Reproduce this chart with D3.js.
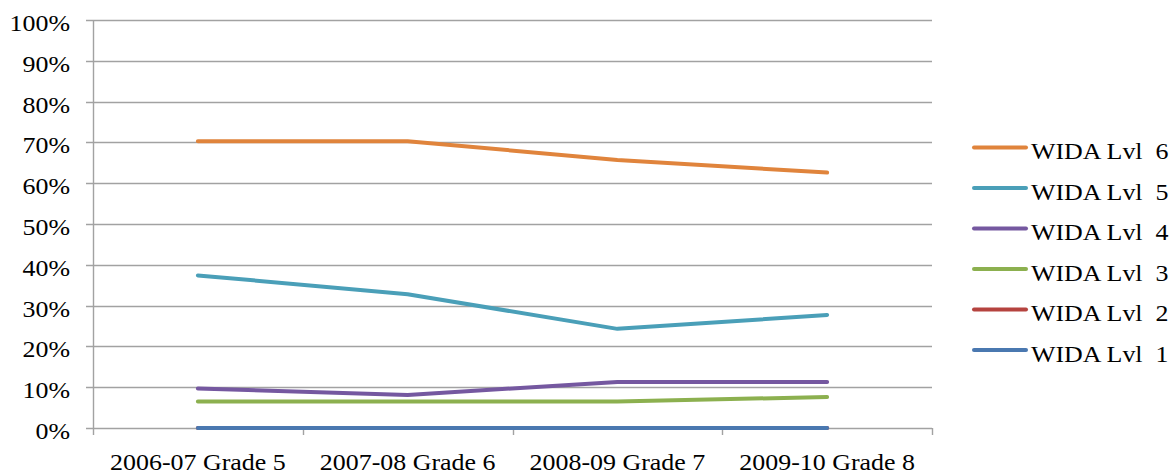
<!DOCTYPE html>
<html>
<head>
<meta charset="utf-8">
<script src="https://cdn.jsdelivr.net/npm/d3@7"></script>
<style>
  body { margin: 0; background: #fff; }
  text { font-family: "Liberation Serif", "Times New Roman", serif; fill: #000; }
</style>
</head>
<body>
<div id="chart"></div>
<script>
// Data
var categories = ["2006-07 Grade 5", "2007-08 Grade 6", "2008-09 Grade 7", "2009-10 Grade 8"];
var seriesNames = ["WIDA Lvl  6", "WIDA Lvl  5", "WIDA Lvl  4", "WIDA Lvl  3", "WIDA Lvl  2", "WIDA Lvl  1"];
var lvl6 = [0.703, 0.703, 0.657, 0.626];
var lvl5 = [0.374, 0.328, 0.243, 0.277];
var lvl4 = [0.097, 0.081, 0.113, 0.113];
var lvl3 = [0.065, 0.065, 0.065, 0.076];
var lvl2 = [0, 0, 0, 0];
var lvl1 = [0, 0, 0, 0];
var yTicks = [0, 0.1, 0.2, 0.3, 0.4, 0.5, 0.6, 0.7, 0.8, 0.9, 1.0];

var colors = ["#E0843C", "#4A9FB8", "#7558A0", "#8CB04F", "#B5433F", "#4A78B0"];
var allSeries = [lvl6, lvl5, lvl4, lvl3, lvl2, lvl1];

// SVG area
var svgWidth = 1175;
var svgHeight = 474;
var plot = { left: 93, right: 932, top: 20, bottom: 428 };
var stretch = 1.08; // the source text is a bit wide

var svg = d3.select("#chart")
    .append("svg")
    .attr("width", svgWidth)
    .attr("height", svgHeight);

// Scales
var xBand = d3.scaleBand()
    .domain(categories)
    .range([plot.left, plot.right])
    .padding(0);

var yScale = d3.scaleLinear()
    .domain([0, 1])
    .range([plot.bottom, plot.top]);

var gridColor = "#a2a2a2";

// Gridlines + y tick labels
var yAxis = svg.append("g");
yAxis.selectAll(".grid")
    .data(yTicks)
    .enter()
    .append("line")
    .attr("x1", plot.left - 7)
    .attr("x2", plot.right)
    .attr("y1", d => Math.round(yScale(d)) + 0.5)
    .attr("y2", d => Math.round(yScale(d)) + 0.5)
    .attr("stroke", gridColor)
    .attr("stroke-width", 1.4);

yAxis.selectAll(".ylabel")
    .data(yTicks)
    .enter()
    .append("text")
    .attr("text-anchor", "end")
    .attr("font-size", 24)
    .attr("transform", d => `translate(70, ${yScale(d) + 11}) scale(${stretch},1)`)
    .text(d => d3.format(".0%")(d));

// Vertical axis line
svg.append("line")
    .attr("x1", plot.left + 0.5)
    .attr("x2", plot.left + 0.5)
    .attr("y1", plot.top)
    .attr("y2", plot.bottom + 7)
    .attr("stroke", gridColor)
    .attr("stroke-width", 1.4);

// X tick marks on category boundaries
var boundaries = categories.map(c => xBand(c)).concat([plot.right]);
svg.selectAll(".xtick")
    .data(boundaries.slice(1))
    .enter()
    .append("line")
    .attr("x1", d => Math.round(d) + 0.5)
    .attr("x2", d => Math.round(d) + 0.5)
    .attr("y1", plot.bottom)
    .attr("y2", plot.bottom + 7)
    .attr("stroke", gridColor)
    .attr("stroke-width", 1.4);

// X labels
svg.selectAll(".xlabel")
    .data(categories)
    .enter()
    .append("text")
    .attr("text-anchor", "middle")
    .attr("font-size", 24)
    .attr("transform", d => `translate(${xBand(d) + xBand.bandwidth() / 2}, 470) scale(${stretch},1)`)
    .text(d => d);

// Lines
var line = d3.line()
    .x((d, i) => xBand(categories[i]) + xBand.bandwidth() / 2)
    .y(d => yScale(d));

// draw level 1 last so it sits on top like the source
var drawOrder = [0, 1, 2, 3, 4, 5];
svg.selectAll(".series")
    .data(drawOrder)
    .enter()
    .append("path")
    .attr("d", i => line(allSeries[i]))
    .attr("fill", "none")
    .attr("stroke", i => colors[i])
    .attr("stroke-width", 4)
    .attr("stroke-linecap", "round")
    .attr("stroke-linejoin", "round");

// Legend
var legend = svg.append("g");
var legendY = d3.scaleLinear().domain([0, 5]).range([147.5, 350]);
seriesNames.forEach(function (name, i) {
    var ly = legendY(i);
    legend.append("line")
        .attr("x1", 974)
        .attr("x2", 1026)
        .attr("y1", ly)
        .attr("y2", ly)
        .attr("stroke", colors[i])
        .attr("stroke-width", 4)
        .attr("stroke-linecap", "round");
    legend.append("text")
        .attr("font-size", 24)
        .attr("xml:space", "preserve")
        .style("white-space", "pre")
        .attr("transform", `translate(1031, ${ly + 11.5}) scale(${stretch},1)`)
        .text(name);
});
</script>
</body>
</html>
